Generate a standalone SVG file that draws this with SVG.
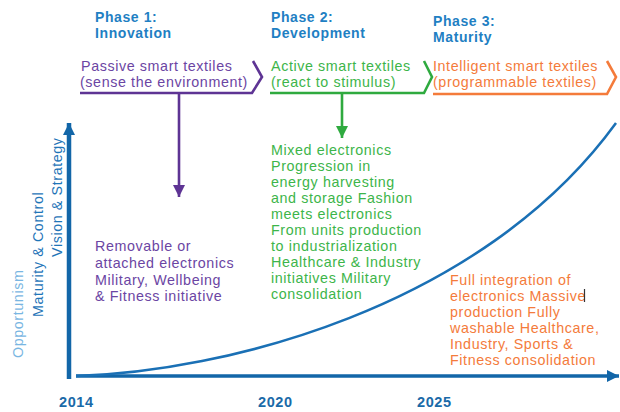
<svg xmlns="http://www.w3.org/2000/svg" width="620" height="412" viewBox="0 0 620 412">
<style>
text{font-family:"Liberation Sans",Arial,sans-serif;font-size:14.3px;letter-spacing:0.6px}
.ttl{font-weight:bold;fill:#1f80c3;font-size:14px}
.yr{font-weight:bold;fill:#1a6aa8;font-size:14.5px}
.pu{fill:#6b45a3}
.gr{fill:#3db54a}
.or{fill:#f47b3b}
.ax{fill:#1f75b8}
.op{fill:#79b6e2}
.br{fill:none;stroke-width:2.6;stroke-linejoin:miter}
</style>
<defs>
<marker id="ahp" markerUnits="userSpaceOnUse" markerWidth="14" markerHeight="12" refX="12" refY="6" orient="auto"><path d="M0,0L12,6L0,12z" fill="#5e3494"/></marker>
<marker id="ahg" markerUnits="userSpaceOnUse" markerWidth="14" markerHeight="12" refX="12" refY="6" orient="auto"><path d="M0,0L12,6L0,12z" fill="#2faa3f"/></marker>
<marker id="ahb" markerUnits="userSpaceOnUse" markerWidth="14" markerHeight="12" refX="12" refY="6" orient="auto"><path d="M0,0L12,6L0,12z" fill="#1266a8"/></marker>
</defs>
<rect width="620" height="412" fill="#ffffff"/>

<g id="phase1">
<text class="ttl" x="95" y="22">Phase 1:</text>
<text class="ttl" x="95" y="38">Innovation</text>
<text class="pu" x="81" y="71">Passive smart textiles</text>
<text class="pu" x="80" y="87">(sense the environment)</text>
<path class="br" stroke="#5e3494" d="M80,93H252L262,77L253,61"/>
</g>
<g id="phase2">
<text class="ttl" x="271" y="22">Phase 2:</text>
<text class="ttl" x="271" y="38">Development</text>
<text class="gr" x="271" y="71">Active smart textiles</text>
<text class="gr" x="271" y="87">(react to stimulus)</text>
<path class="br" stroke="#2faa3f" d="M270,93H424L432,77L424,61"/>
</g>
<g id="phase3">
<text class="ttl" x="433" y="26">Phase 3:</text>
<text class="ttl" x="433" y="42">Maturity</text>
<text class="or" x="433" y="71">Intelligent smart textiles</text>
<text class="or" x="433" y="87">(programmable textiles)</text>
<path class="br" stroke="#f47b3b" d="M433,94H607L616,77L607,61"/>
</g>

<g id="removable">
<text class="pu" x="95" y="251">Removable or</text>
<text class="pu" x="95" y="268">attached electronics</text>
<text class="pu" x="95" y="285">Military, Wellbeing</text>
<text class="pu" x="95" y="301">&amp; Fitness initiative</text>
</g>
<g id="mixed">
<text class="gr" x="271" y="155">Mixed electronics</text>
<text class="gr" x="271" y="171">Progression in</text>
<text class="gr" x="271" y="187">energy harvesting</text>
<text class="gr" x="271" y="203">and storage Fashion</text>
<text class="gr" x="271" y="219">meets electronics</text>
<text class="gr" x="271" y="235">From units production</text>
<text class="gr" x="271" y="251">to industrialization</text>
<text class="gr" x="271" y="267">Healthcare &amp; Industry</text>
<text class="gr" x="271" y="283">initiatives Military</text>
<text class="gr" x="271" y="299">consolidation</text>
</g>
<g id="full">
<text class="or" x="450" y="285">Full integration of</text>
<text class="or" x="450" y="301">electronics Massive</text>
<text class="or" x="450" y="317">production Fully</text>
<text class="or" x="450" y="333">washable Healthcare,</text>
<text class="or" x="450" y="349">Industry, Sports &amp;</text>
<text class="or" x="450" y="365">Fitness consolidation</text>
<line x1="584.5" y1="289" x2="584.5" y2="302" stroke="#333" stroke-width="1.2"/>
</g>

<g id="axes-labels">
<text class="ax" transform="translate(62,257) rotate(-90)">Vision &amp; Strategy</text>
<text class="ax" transform="translate(43,317) rotate(-90)">Maturity &amp; Control</text>
<text class="op" transform="translate(23,358) rotate(-90)">Opportunism</text>
<text class="yr" x="59" y="407">2014</text>
<text class="yr" x="258" y="407">2020</text>
<text class="yr" x="417" y="407">2025</text>
</g>

<g id="connectors">
<line x1="179" y1="93" x2="179" y2="197" stroke="#5e3494" stroke-width="2.6" marker-end="url(#ahp)"/>
<line x1="342" y1="93" x2="342" y2="138" stroke="#2faa3f" stroke-width="2.6" marker-end="url(#ahg)"/>
<line x1="69" y1="379" x2="69" y2="123" stroke="#1266a8" stroke-width="4.5" marker-end="url(#ahb)"/>
<line x1="76" y1="376" x2="619" y2="376" stroke="#1266a8" stroke-width="3.5" marker-end="url(#ahb)"/>
<path d="M76,376C220,372 480,310 616,123" fill="none" stroke="#1a70b5" stroke-width="2.5"/>
</g>
</svg>
